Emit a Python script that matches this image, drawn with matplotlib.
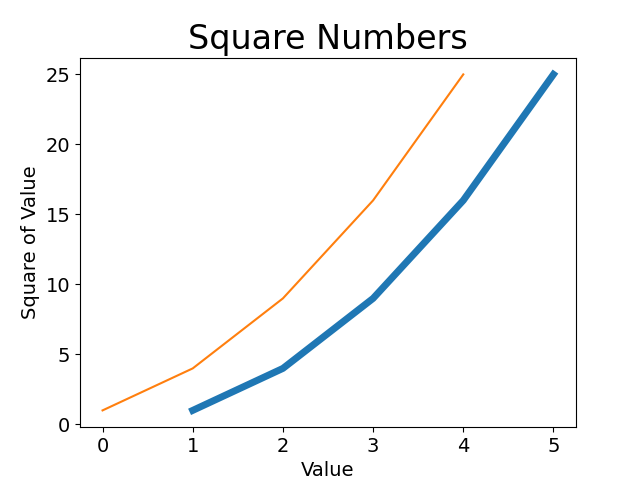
import matplotlib
matplotlib.use("Agg")
import matplotlib.pyplot as plt

input_values = [1, 2, 3, 4, 5]
squares = [1, 4, 9, 16, 25]

fig, ax = plt.subplots(figsize=(6.4, 4.8), dpi=100)
ax.plot(input_values, squares, linewidth=5)
ax.plot(squares)

ax.set_title("Square Numbers", fontsize=24)
ax.set_xlabel("Value", fontsize=14)
ax.set_ylabel("Square of Value", fontsize=14)
ax.tick_params(axis='both', labelsize=14)

fig.savefig("out.png")
